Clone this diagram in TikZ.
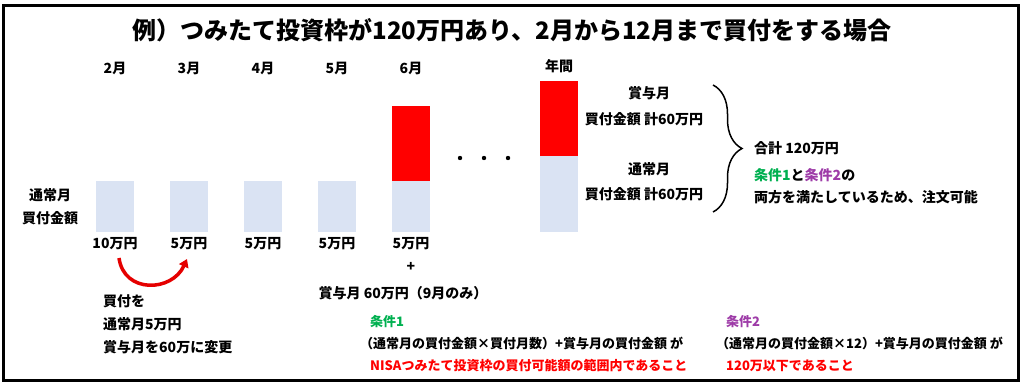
\documentclass[tikz,border=0pt]{standalone}
\usepackage{fontspec}
\setmainfont{Noto Sans CJK JP}
\usepackage{tikz}
\usetikzlibrary{arrows.meta}
\usetikzlibrary{positioning}
\usetikzlibrary{decorations.pathreplacing}
\definecolor{barblue}{HTML}{DAE3F3}
\definecolor{barred}{HTML}{FF0000}
\definecolor{condgreen}{HTML}{00B050}
\definecolor{condpurple}{HTML}{9E3CA8}
\tikzset{
	bar/.style={rectangle, inner sep=0pt, minimum width=38pt},
	normbar/.style={bar, fill=barblue, minimum height=51pt},
	bonusbar/.style={bar, fill=barred, minimum height=75pt},
}

\begin{document}
\begin{tikzpicture}[x=1pt, y=-1pt,
	lbl/.style={font=\bfseries\fontsize{14}{16}\selectfont, inner sep=0pt},
	txt/.style={lbl, anchor=west},
	cond/.style={font=\bfseries\fontsize{13}{15}\selectfont, inner sep=0pt, anchor=west},
	redarrow/.style={draw=red!90!black, line width=3.5pt, -{Triangle[length=8pt,width=10pt]}}]
	
	% frame
	\useasboundingbox (0,0) rectangle (1024,385);
	\draw[line width=3pt] (3,6) rectangle (1018,380);
	
	% title
	\node[font=\bfseries\fontsize{24}{28}\selectfont] (title) at (512,30)
		{例）つみたて投資枠が120万円あり、2月から12月まで買付をする場合};
	
	% monthly bars
	\foreach \m/\x/\v in {2/115/10, 3/189/5, 4/263/5, 5/337/5, 6/411/5} {
		\node[lbl] (m\m) at (\x,68) {{\m}月};
		\node[normbar] (n\m) at (\x,206.5) {};
		\node[lbl] (a\m) at (\x,244) {{\v}万円};
	}
	\node[bonusbar, anchor=south] (r6) at (n6.north) {};
	
	% dots
	\foreach \x in {460, 484, 508}
	\fill (\x,158) circle (2.2pt);
	
	% yearly bar
	\node[lbl] (my) at (559,66) {年間};
	\node[bonusbar] (ry) at (559,118.5) {};
	\node[normbar, minimum height=76pt, anchor=north] (ny) at (ry.south) {};
	
	% left labels
	\node[lbl] (nl1) at (50,195) {通常月};
	\node[lbl] (nl2) at (50,218) {買付金額};
	
	% yearly labels
	\node[lbl] (yb1) at (649,93) {賞与月};
	\node[lbl] (yb2) at (644,119) {買付金額 計60万円};
	\node[lbl] (yn1) at (649,169) {通常月};
	\node[lbl] (yn2) at (644,194) {買付金額 計60万円};
	
	% brace
	\coordinate (bt) at (713,85);
	\coordinate (bb) at (713,212);
	\draw[decorate, decoration={brace, amplitude=29pt}, line width=1.5pt] (bt) -- (bb);
	
	% total
	\node[txt] (tot) at (754,148) {合計 120万円};
	\node[txt] (ok1) at (754,175) {\textcolor{condgreen}{条件1}と\textcolor{condpurple}{条件2}の};
	\node[txt] (ok2) at (754,197) {両方を満たしているため、注文可能};
	
	% bonus month
	\node[lbl] (plus) at (411,267) {+};
	\node[lbl] (bonus) at (403,293) {賞与月 60万円（9月のみ）};
	
	% change arrow
	\coordinate (arrS) at (119,258);
	\coordinate (arrE) at (187,259);
	\draw[redarrow] (arrS) .. controls (124,294) and (172,292) .. (arrE);
	\node[txt] (ch1) at (103,301) {買付を};
	\node[txt] (ch2) at (103,324) {通常月5万円};
	\node[txt] (ch3) at (103,347) {賞与月を60万に変更};
	
	% conditions
	\node[cond, text=condgreen] (c1) at (370,322) {条件1};
	\node[cond] (c1a) at (360,343) {（通常月の買付金額×買付月数）+賞与月の買付金額 が};
	\node[cond, text=red] (c1b) at (370,366) {NISAつみたて投資枠の買付可能額の範囲内であること};
	\node[cond, text=condpurple] (c2) at (726,322) {条件2};
	\node[cond] (c2a) at (716,343) {（通常月の買付金額×12）+賞与月の買付金額 が};
	\node[cond, text=red] (c2b) at (726,366) {120万以下であること};
	\end{tikzpicture}
\end{document}
